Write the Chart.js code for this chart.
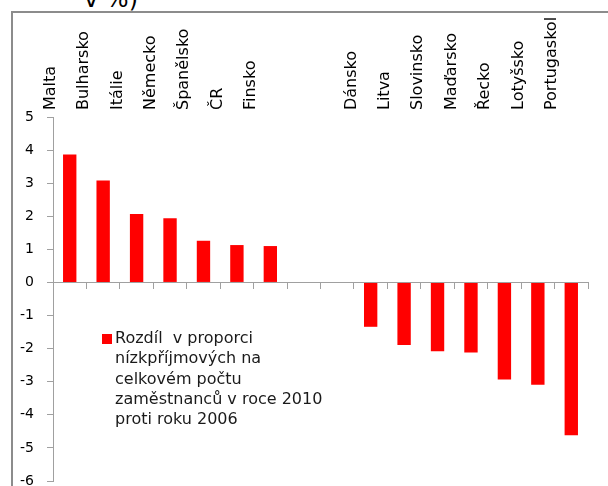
<!DOCTYPE html>
<html>
<head>
<meta charset="utf-8">
<script src="https://cdn.jsdelivr.net/npm/chart.js@4"></script>
<style>
  html, body { margin: 0; padding: 0; background: #fff; overflow: hidden; }
  #wrap { position: relative; width: 608px; height: 486px; overflow: hidden; }
  #frame { position: absolute; left: 11px; top: 11px; width: 700px; height: 600px;
           border-top: 2px solid #8c8c8c; border-left: 2px solid #8c8c8c; }
  #title { position: absolute; left: 84px; top: -13px; font: 24px/24px "DejaVu Sans"; color: #000; white-space: nowrap; }
  canvas { position: absolute; left: 0; top: 0; }
</style>
</head>
<body>
<div id="wrap">
  <div id="frame"></div>
  <div id="title">v %)</div>
  <canvas id="chart" width="608" height="486"></canvas>
</div>
<script>
// Categories (two empty slots split the two groups)
const countries = ["Malta", "Bulharsko", "Itálie", "Německo", "Španělsko", "ČR", "Finsko", "", "",
                   "Dánsko", "Litva", "Slovinsko", "Maďarsko", "Řecko", "Lotyšsko", "Portugaskol"];

// Difference in share of low-income employees, 2010 vs 2006 (p.b.)
const rozdil = [3.87, 3.08, 2.07, 1.94, 1.26, 1.13, 1.10, null, null,
                -1.34, -1.89, -2.08, -2.12, -2.93, -3.09, -4.62];

// Y axis tick labels
const yTicks = [5, 4, 3, 2, 1, 0, -1, -2, -3, -4, -5, -6];

// Legend text, one line per entry
const seriesLabel = ["Rozdíl  v proporci", "nízkpříjmových na", "celkovém počtu",
                     "zaměstnanců v roce 2010", "proti roku 2006"];

const FONT = "DejaVu Sans";
const AXIS_GRAY = "#a0a0a0";

// Draw the multi-line legend inside the plot area
const legendBox = {
    id: "legendBox",
    afterDraw(chart) {
        const ctx = chart.ctx;
        const area = chart.chartArea;
        const x = area.left + 49;
        const y = area.top + 222;
        ctx.save();
        ctx.fillStyle = chart.data.datasets[0].backgroundColor;
        ctx.fillRect(x, y - 5, 10, 10);
        ctx.fillStyle = "#1a1a1a";
        ctx.font = "16px '" + FONT + "'";
        ctx.textBaseline = "middle";
        seriesLabel.forEach((line, i) => {
            ctx.fillText(line, x + 13, y + i * 20.2);
        });
        ctx.restore();
    }
};

// keep the plot area fixed, labels may run off the edge like the original
function noPad(s) {
    s.paddingTop = 0;
    s.paddingBottom = 0;
    s.paddingLeft = 0;
    s.paddingRight = 0;
}

new Chart(document.getElementById("chart"), {
    type: "bar",
    data: {
        labels: countries,
        datasets: [{
            label: seriesLabel.join(" "),
            data: rozdil,
            backgroundColor: "#ff0000",
            barPercentage: 0.4,
            categoryPercentage: 1
        }]
    },
    options: {
        responsive: false,
        devicePixelRatio: 1,
        animation: false,
        layout: { padding: { top: 0, left: 0, right: 20, bottom: 5 } },
        plugins: { legend: { display: false }, tooltip: { enabled: false } },
        scales: {
            x: {
                type: "category",
                position: { y: 0 },
                offset: true,
                grid: { offset: true, drawOnChartArea: false, drawTicks: true, tickLength: 6, color: AXIS_GRAY },
                border: { color: AXIS_GRAY },
                ticks: { display: false },
                afterFit: noPad
            },
            x2: {
                type: "category",
                position: "top",
                offset: true,
                grid: { display: false, drawTicks: false },
                border: { display: false },
                ticks: {
                    autoSkip: false,
                    minRotation: 90,
                    maxRotation: 90,
                    padding: 7,
                    color: "#000",
                    font: { family: FONT, size: 16 }
                },
                afterFit: (s) => { s.height = 117; noPad(s); }
            },
            y: {
                min: -6,
                max: 5,
                position: "left",
                grid: { drawOnChartArea: false, tickLength: 6, color: AXIS_GRAY },
                border: { color: AXIS_GRAY },
                afterBuildTicks: (s) => { s.ticks = yTicks.map(v => ({ value: v })); },
                ticks: { color: "#000", padding: 13, font: { family: FONT, size: 14 } },
                afterFit: (s) => { s.width = 53; noPad(s); }
            }
        }
    },
    plugins: [legendBox]
});
</script>
</body>
</html>
